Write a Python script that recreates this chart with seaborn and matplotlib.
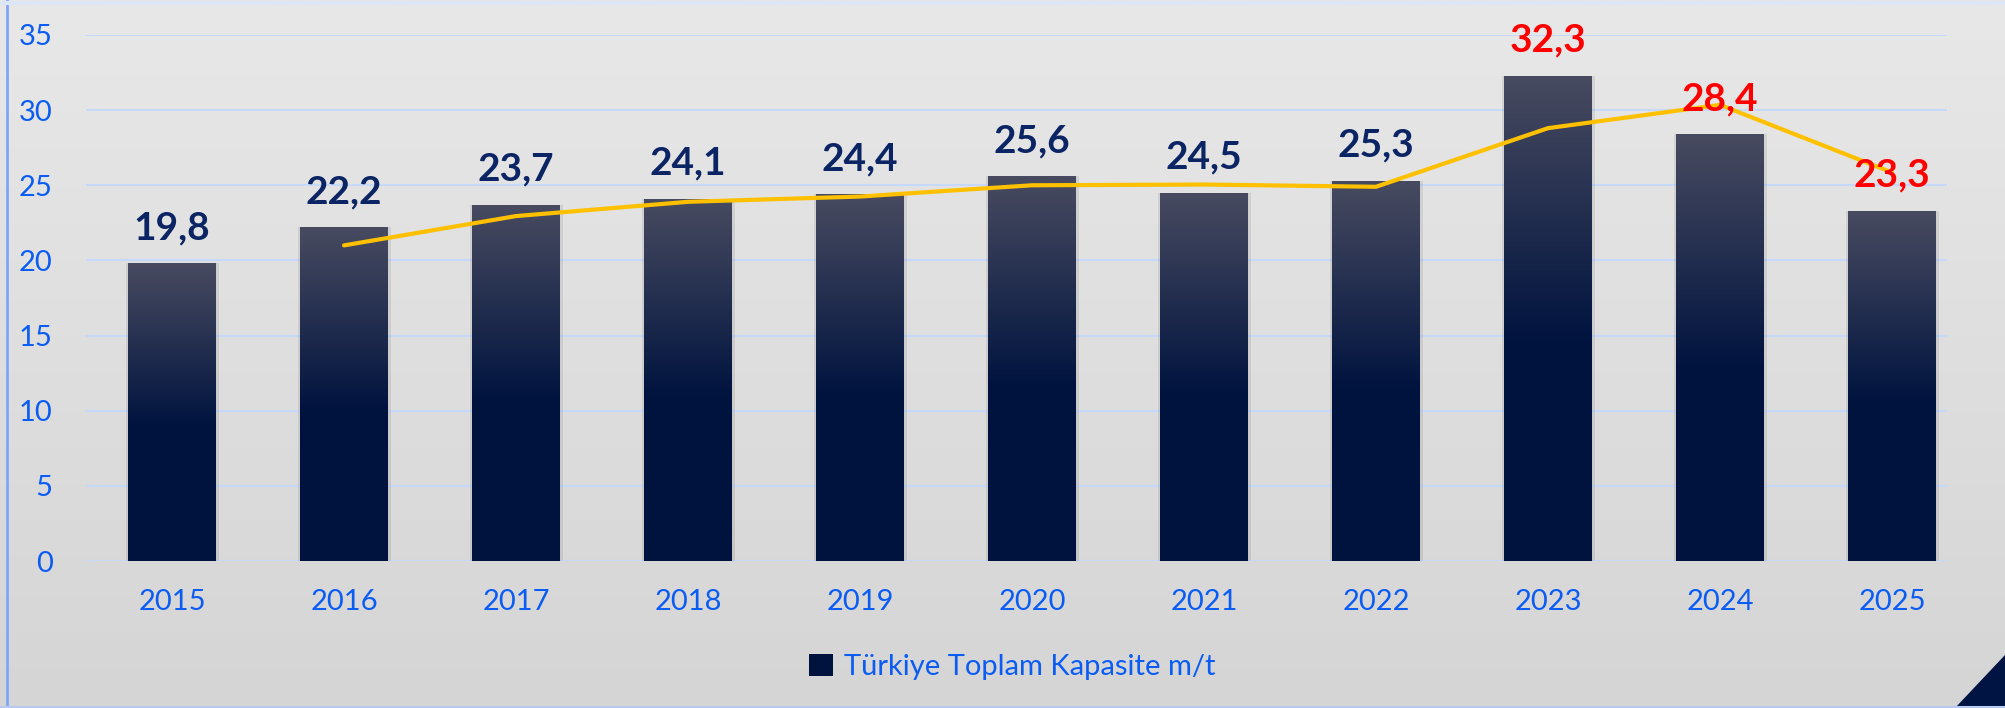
import numpy as np
import pandas as pd
import matplotlib
matplotlib.use("Agg")
import matplotlib.pyplot as plt
import seaborn as sns
from matplotlib.colors import LinearSegmentedColormap
from matplotlib.patches import Patch, Polygon

years = ["2015", "2016", "2017", "2018", "2019", "2020", "2021", "2022", "2023", "2024", "2025"]
capacity = [19.8, 22.2, 23.7, 24.1, 24.4, 25.6, 24.5, 25.3, 32.3, 28.4, 23.3]
trend = [np.nan, 21.0, 22.95, 23.9, 24.25, 25.0, 25.05, 24.9, 28.8, 30.35, 25.85]
labels = ["19,8", "22,2", "23,7", "24,1", "24,4", "25,6", "24,5", "25,3", "32,3", "28,4", "23,3"]
label_colors = ["#0b2463"] * 8 + ["#ff0000"] * 3
legend_label = "Türkiye Toplam Kapasite m/t"

TICK_BLUE = "#0b5cf2"
GRID_BLUE = "#c6d9fb"
NAVY = "#00133f"

sns.set_theme(style="white")
plt.rcParams["font.family"] = ["Lato", "DejaVu Sans"]

fig = plt.figure(figsize=(20.05, 7.08), dpi=100)

# background gradient over the whole figure
bg = fig.add_axes([0, 0, 1, 1], zorder=-10)
bg_cmap = LinearSegmentedColormap.from_list("bg", ["#e8e8e8", "#d5d5d5"])
bg.imshow(np.linspace(0, 1, 256).reshape(-1, 1), aspect="auto", cmap=bg_cmap,
          extent=[0, 1, 0, 1], origin="upper")
bg.set_xlim(0, 1)
bg.set_ylim(0, 1)
bg.axis("off")
bg.plot([0.0035, 0.0035], [0, 1], color="#7fa6f6", lw=2)
bg.plot([0, 1], [0.996, 0.996], color="#dde6f7", lw=3)
bg.plot([0, 1], [0.002, 0.002], color="#b7c9f0", lw=1.5)
bg.add_patch(Polygon([[0.975, 0], [1, 0], [1, 0.075]], closed=True, color="#001443"))

ax = fig.add_axes([0.0429, 0.2076, 0.9282, 0.743])
ax.patch.set_alpha(0)

df = pd.DataFrame({"year": years, "capacity": capacity})
sns.barplot(data=df, x="year", y="capacity", color=NAVY, width=0.51, ax=ax,
            zorder=2, linewidth=0, saturation=1)

# vertical gradient on each bar
bar_cmap = LinearSegmentedColormap.from_list(
    "bar", [(0, "#484b60"), (0.55, NAVY), (1, NAVY)])
grad = np.linspace(0, 1, 256).reshape(-1, 1)
for p in list(ax.patches):
    x0, w, h = p.get_x(), p.get_width(), p.get_height()
    # soft shadow to the side
    ax.bar(x0 + w / 2, h, width=w * 1.06, color="#000000", alpha=0.08,
           linewidth=0, zorder=1.5)
    im = ax.imshow(grad, aspect="auto", cmap=bar_cmap, origin="upper",
                   extent=[x0, x0 + w, 0, h], zorder=2.5)
    im.set_clip_path(p)

sns.lineplot(x=np.arange(len(years)), y=trend, color="#ffc000", lw=3, ax=ax, zorder=4)

for i, (v, lab, c) in enumerate(zip(capacity, labels, label_colors)):
    ax.annotate(lab, (i, v), xytext=(0, 13), textcoords="offset points",
                ha="center", va="bottom", fontsize=28, fontweight="bold",
                color=c, zorder=5)

ax.set_xlim(-0.5, 10.32)
ax.set_ylim(0, 35)
ax.set_yticks(range(0, 36, 5))
ax.yaxis.grid(True, color=GRID_BLUE, lw=1.5, zorder=0)
ax.set_axisbelow(True)
ax.set_xlabel("")
ax.set_ylabel("")
for s in ax.spines.values():
    s.set_visible(False)
ax.tick_params(axis="y", colors=TICK_BLUE, labelsize=21, length=0, pad=24)
ax.tick_params(axis="x", colors=TICK_BLUE, labelsize=21, length=0, pad=20)

handle = Patch(facecolor=NAVY, edgecolor="none")
leg = fig.legend([handle], [legend_label], loc="center", bbox_to_anchor=(0.505, 0.058),
                 frameon=False, fontsize=21, handlelength=0.8, handleheight=0.8,
                 handletextpad=0.4)
for t in leg.get_texts():
    t.set_color(TICK_BLUE)

fig.savefig("out.png", dpi=100)
